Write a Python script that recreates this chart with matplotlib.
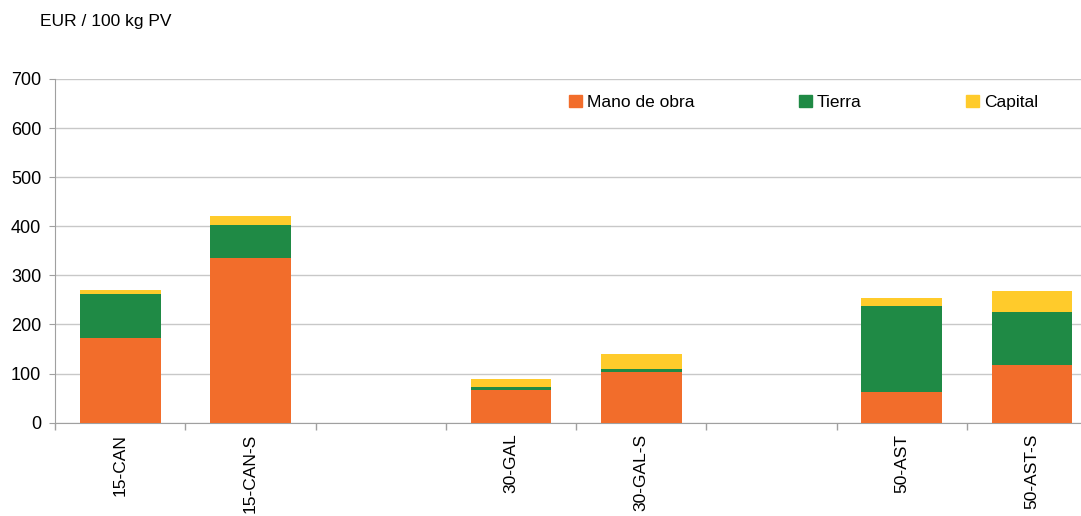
import matplotlib.pyplot as plt
import numpy as np
from matplotlib.patches import Patch

plt.rcParams['font.family'] = ['Liberation Sans', 'DejaVu Sans']

categorias = ['15-CAN', '15-CAN-S', '', '30-GAL', '30-GAL-S', '', '50-AST', '50-AST-S']
mano_obra = [173, 335, 0, 66, 103, 0, 63, 118]
tierra = [89, 68, 0, 6, 7, 0, 174, 108]
capital = [8, 18, 0, 17, 29, 0, 17, 43]

c_mano = '#F26D2B'
c_tierra = '#1F8A45'
c_capital = '#FFCB2B'

fig = plt.figure(figsize=(10.81, 5.16), dpi=100)
ax = fig.add_axes([0.0509, 0.181, 0.964, 0.666])

x = np.arange(len(categorias))
w = 0.62
mano = np.array(mano_obra)
tie = np.array(tierra)
cap = np.array(capital)
ax.bar(x, mano, width=w, color=c_mano, zorder=3)
ax.bar(x, tie, width=w, bottom=mano, color=c_tierra, zorder=3)
ax.bar(x, cap, width=w, bottom=mano + tie, color=c_capital, zorder=3)

ax.set_xlim(-0.5, len(categorias) - 0.5)
ax.set_ylim(0, 700)
ax.set_yticks(range(0, 701, 100))
ax.yaxis.grid(True, color='#C8C8C8', linewidth=1.0, zorder=0)
ax.set_axisbelow(True)

ax.set_xticks(x)
ax.set_xticklabels(categorias, rotation=90, fontsize=12.5)
ax.set_xticks(np.arange(len(categorias) + 1) - 0.5, minor=True)
ax.tick_params(axis='x', which='major', length=0, pad=8)
ax.tick_params(axis='x', which='minor', length=5, color='#A0A0A0', width=1)
ax.tick_params(axis='y', length=4, color='#A0A0A0', labelsize=13, pad=6)

for s in ['top', 'right']:
    ax.spines[s].set_visible(False)
ax.spines['left'].set_color('#A0A0A0')
ax.spines['bottom'].set_color('#A0A0A0')

handles = [Patch(color=c_mano, label='Mano de obra'),
           Patch(color=c_tierra, label='Tierra'),
           Patch(color=c_capital, label='Capital')]
ax.legend(handles=handles, ncol=3, loc='upper left', bbox_to_anchor=(0.478, 1.0),
          frameon=False, fontsize=12.5, handlelength=0.75, handleheight=0.75,
          handletextpad=0.3, columnspacing=6.0)

fig.text(0.037, 0.958, 'EUR / 100 kg PV', fontsize=12.5, va='center')

fig.savefig('out.png', dpi=100)
